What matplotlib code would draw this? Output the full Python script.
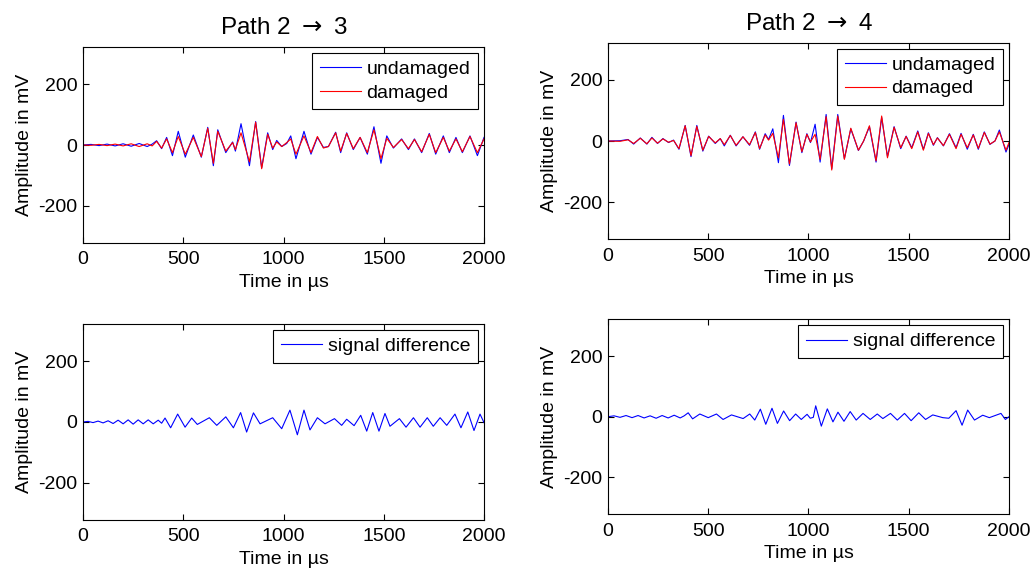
import numpy as np
import matplotlib.pyplot as plt

plt.rcParams['font.family'] = ['Liberation Sans', 'DejaVu Sans']
plt.rcParams['font.size'] = 14
plt.rcParams['axes.unicode_minus'] = False

# --- data (time in us, amplitude in mV) ---
# path 2 -> 3, raw signals
p23_time = [0, 40, 80, 120, 160, 200, 240, 280, 320, 345,
            367, 392, 417, 446, 475, 510, 550, 590, 622, 650,
            672, 712, 746, 760, 788, 830, 861, 891, 921, 946,
            966, 991, 1016, 1036, 1062, 1102, 1137, 1169, 1199, 1224,
            1260, 1285, 1315, 1348, 1382, 1418, 1451, 1486, 1515, 1548,
            1589, 1623, 1653, 1689, 1727, 1759, 1797, 1827, 1860, 1892,
            1930, 1967, 2000]
p23_undamaged = [0, 2, -2, 3, -3, 4, -4, 5, -5, 3,
                 14, -12, 25, -35, 45, -40, 33, -40, 58, -68,
                 50, -25, 10, -20, 70, -68, 77, -75, 40, -15,
                 15, -5, 5, 30, -45, 45, -30, 25, -8, -5,
                 42, -25, 40, -15, 25, -30, 60, -60, 30, -10,
                 20, -15, 20, -25, 38, -30, 30, -25, 25, -25,
                 30, -35, 25]
p23_damaged = [0, -1, 2, -2, 3, -3, 4, -5, 4, -3,
               12, -10, 20, -25, 28, -30, 25, -38, 55, -60,
               45, -20, 8, -15, 40, -55, 75, -78, 35, -10,
               10, -5, 8, 20, -30, 30, -25, 28, -10, -5,
               40, -20, 38, -12, 25, -25, 50, -45, 22, -8,
               18, -12, 18, -22, 35, -25, 25, -20, 20, -22,
               28, -25, 20]

# path 2 -> 4, raw signals
p24_time = [0, 60, 100, 128, 161, 194, 219, 247, 274, 302, 327,
            354, 385, 414, 443, 473, 502, 535, 560, 580, 610,
            639, 673, 706, 735, 756, 784, 801, 822, 850, 875,
            905, 938, 967, 992, 1010, 1033, 1058, 1088, 1116, 1146,
            1179, 1211, 1249, 1275, 1304, 1337, 1365, 1394, 1427, 1460,
            1487, 1515, 1545, 1573, 1598, 1623, 1643, 1673, 1703, 1736,
            1761, 1792, 1822, 1847, 1877, 1905, 1930, 1952, 1985, 2000]
p24_undamaged = [0, 1, 5, -10, 10, -10, 12, -8, 8, -5, 3,
                 -27, 51, -51, 51, -33, 16, -8, 8, -16, 19,
                 -16, 14, -14, 30, -27, 24, 5, 40, -71, 84,
                 -80, 62, -38, 24, -5, 55, -69, 87, -91, 87,
                 -58, 40, -31, 0, 47, -69, 77, -51, 47, -25,
                 16, -22, 33, -27, 27, -14, 11, -16, 24, -22,
                 25, -27, 22, -27, 30, -11, 0, 36, -36, -11]
p24_damaged = [0, -1, 4, -8, 9, -9, 10, -7, 7, -4, 2,
               -25, 50, -48, 48, -30, 15, -6, 8, -12, 18,
               -14, 14, -12, 28, -25, 20, 3, 25, -55, 71,
               -75, 60, -35, 22, -3, 22, -60, 80, -95, 82,
               -60, 42, -30, 0, 50, -65, 82, -55, 45, -22,
               15, -25, 30, -30, 25, -12, 10, -15, 22, -25,
               22, -22, 20, -24, 28, -10, 0, 30, -30, -5]

# signal differences
d23_time = [0, 25, 50, 75, 100, 125, 150, 175, 200, 225,
            250, 275, 300, 325, 350, 375, 392,
            409, 437, 472, 509, 542, 570, 630, 667, 712, 750,
            786, 816, 850, 883, 946, 991, 1032, 1069, 1102, 1132,
            1169, 1207, 1254, 1290, 1315, 1352, 1385, 1415, 1445, 1476,
            1506, 1531, 1578, 1611, 1648, 1681, 1717, 1747, 1781, 1814,
            1855, 1885, 1919, 1950, 1980, 2000]
d23_diff = [0, 2, -2, 3, -3, 4, -5, 6, -6, 7,
            -7, 7, -6, 7, -6, 6, -4,
            13, -19, 26, -17, 13, -8, 14, -11, 17, -19,
            31, -33, 30, -6, 14, -22, 39, -42, 39, -26,
            14, -6, 11, -11, 9, -12, 22, -30, 31, -30,
            28, -14, 11, -17, 14, -17, 14, -14, 14, -11,
            26, -19, 33, -28, 26, -2]
d24_time = [0, 30, 60, 90, 120, 150, 180, 210, 240, 270,
            300, 330, 360, 380,
            400, 422, 458, 500, 541, 574, 616, 674, 707, 732,
            760, 787, 818, 845, 876, 906, 936, 964, 993, 1009,
            1024, 1036, 1064, 1094, 1122, 1147, 1177, 1208, 1238, 1272,
            1308, 1343, 1371, 1409, 1443, 1479, 1512, 1550, 1584, 1620,
            1670, 1700, 1736, 1766, 1794, 1828, 1869, 1902, 1960, 1982,
            2000]
d24_diff = [0, 3, -2, 4, -3, 4, -4, 3, -5, 4,
            -4, 5, -4, 3,
            13, -7, 9, -3, 9, -9, 6, -6, 9, -11,
            25, -25, 28, -22, 19, -13, 9, -9, 8, -5,
            -2, 36, -31, 26, -17, 15, -15, 17, -11, 11,
            -9, 9, -6, 11, -11, 11, -13, 13, -9, 6,
            -3, -5, 20, -28, 22, -11, 5, -3, 11, -9,
            0]

panels = [
    (p23_time, [(p23_undamaged, 'blue', 'undamaged'), (p23_damaged, 'red', 'damaged')],
     'Path 2$\\;\\rightarrow\\;$3', [0.0803, 0.5729, 0.3878, 0.3445]),
    (p24_time, [(p24_undamaged, 'blue', 'undamaged'), (p24_damaged, 'red', 'damaged')],
     'Path 2$\\;\\rightarrow\\;$4', [0.588, 0.5794, 0.3878, 0.3455]),
    (d23_time, [(d23_diff, 'blue', 'signal difference')], None, [0.0803, 0.0861, 0.3878, 0.3445]),
    (d24_time, [(d24_diff, 'blue', 'signal difference')], None, [0.588, 0.0961, 0.3878, 0.343]),
]

fig = plt.figure(figsize=(10.34, 5.69), dpi=100)

for t, series, title, pos in panels:
    ax = fig.add_axes(pos)
    for amp, col, lab in series:
        ax.plot(t, amp, color=col, lw=0.8, label=lab)
    ax.set_xlim(0, 2000)
    ax.set_ylim(-322, 322)
    ax.set_xticks([0, 500, 1000, 1500, 2000])
    ax.set_yticks([-200, 0, 200])
    ax.tick_params(direction='in', top=True, right=True, length=4, width=0.8)
    ax.tick_params(axis='x', pad=6)
    ax.tick_params(axis='y', pad=4)
    for s in ax.spines.values():
        s.set_linewidth(0.8)
    ax.set_xlabel('Time in \u00b5s', labelpad=4)
    ax.set_ylabel('Amplitude in mV', labelpad=4)
    if title:
        ax.set_title(title, fontsize=17.5, pad=9)
    leg = ax.legend(loc='upper right', fancybox=False, edgecolor='black', framealpha=1,
                    borderaxespad=0.3, borderpad=0.4, labelspacing=0.3,
                    handlelength=2.1, handletextpad=0.3)
    leg.get_frame().set_linewidth(0.8)

fig.savefig('out.png', dpi=100)
